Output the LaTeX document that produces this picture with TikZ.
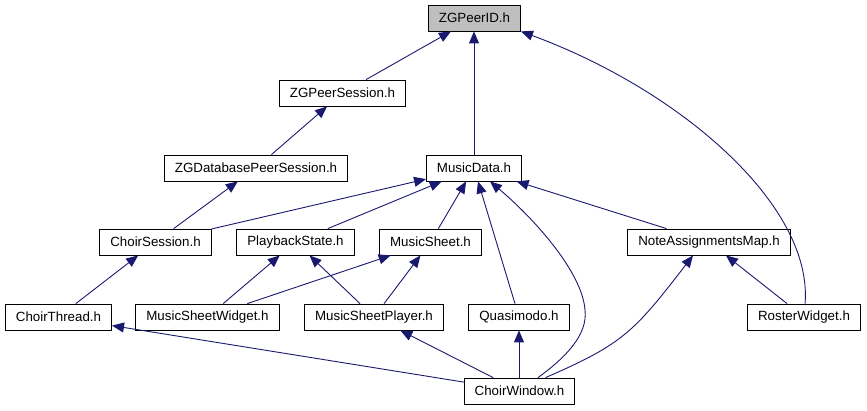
\documentclass[tikz,border=0pt]{standalone}
\usepackage{fontspec}
\setmainfont{Liberation Sans}
\usetikzlibrary{arrows.meta,calc}
\definecolor{edgeblue}{RGB}{25,25,112}
\definecolor{rootgrey}{RGB}{191,191,191}
\begin{document}
\begin{tikzpicture}[x=1pt,y=-1pt,
  box/.style={draw=black, line width=0.8pt, fill=white, inner xsep=10.5pt, inner ysep=0pt,
    minimum height=26pt, font=\fontsize{13.33}{16}\selectfont},
  rootbox/.style={box, fill=rootgrey},
  edge/.style={draw=edgeblue, line width=0.9pt, -{Triangle[length=12pt,width=10pt]}}]
\useasboundingbox (0,0) rectangle (867,411);

\node[rootbox] (zgid) at (474.5,18) {ZGPeerID.h};
\node[box] (zgps) at (342.5,93) {ZGPeerSession.h};
\node[box] (zgdb) at (256,168) {ZGDatabasePeerSession.h};
\node[box] (md) at (474,168) {MusicData.h};
\node[box] (cs) at (155.5,242) {ChoirSession.h};
\node[box] (ps) at (295.5,242) {PlaybackState.h};
\node[box] (ms) at (430.5,242) {MusicSheet.h};
\node[box] (nam) at (709,242) {NoteAssignmentsMap.h};
\node[box] (ct) at (58.5,317) {ChoirThread.h};
\node[box] (msw) at (207.5,317) {MusicSheetWidget.h};
\node[box] (msp) at (374,317) {MusicSheetPlayer.h};
\node[box] (qm) at (519,317) {Quasimodo.h};
\node[box] (rw) at (804,317) {RosterWidget.h};
\node[box] (cw) at (519.5,391) {ChoirWindow.h};

\draw[edge] (zgps) -- (zgid);
\draw[edge] (md.north) -- (md.north |- zgid.south);
\draw[edge] (rw) .. controls (813,205) and (680,90) .. (zgid.south east);
\draw[edge] (zgdb) -- (zgps);
\draw[edge] (cs) -- (zgdb);
\draw[edge] (cs) -- (md);
\draw[edge] (ps) -- (md);
\draw[edge] (ms) -- (md);
\draw[edge] (qm) -- (md);
\draw[edge] (cw) .. controls (565,358) and (588,335) .. (585,310)
             .. controls (582,270) and (530,215) .. (md);
\draw[edge] (nam) -- (md);
\draw[edge] (ct) -- (cs);
\draw[edge] (msw) -- (ps);
\draw[edge] (msw) -- (ms);
\draw[edge] (msp) -- (ps);
\draw[edge] (msp) -- (ms);
\draw[edge] (cw) -- (ct);
\draw[edge] (cw) -- (msp);
\draw[edge] (cw.north -| qm.south) -- (qm.south);
\draw[edge] ($(cw.north)+(26,0)$) .. controls (623,344) and (634,332) .. ($(nam.south)+(-16,0)$);
\draw[edge] (rw) -- (nam);
\end{tikzpicture}
\end{document}
